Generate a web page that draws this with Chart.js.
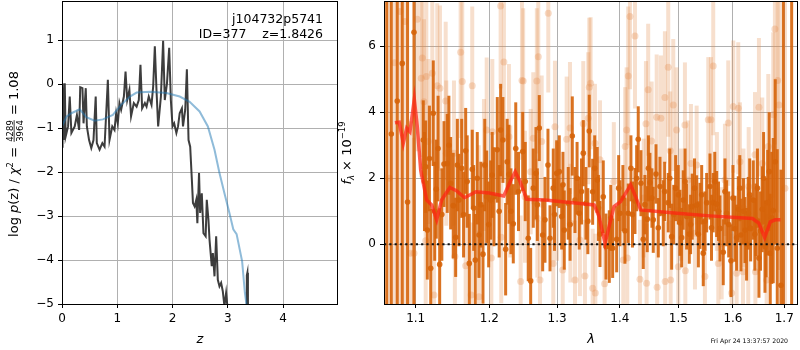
<!DOCTYPE html>
<html>
<head>
<meta charset="utf-8">
<script src="https://cdn.jsdelivr.net/npm/chart.js@4/dist/chart.umd.min.js"></script>
<style>
  html, body { margin: 0; padding: 0; background: #fff; }
  #wrap { position: relative; width: 800px; height: 350px; overflow: hidden; }
  canvas { position: absolute; top: 0; }
  #pz { left: 0; }
  #spec { left: 330px; }
</style>
</head>
<body>
<div id="wrap">
  <canvas id="pz" width="340" height="350"></canvas>
  <canvas id="spec" width="470" height="350"></canvas>
</div>
<script>
// ---- left panel: log p(z) ----
const zTicks = [0, 1, 2, 3, 4];
const logpTicks = [-5, -4, -3, -2, -1, 0, 1];

// noisy p(z) curve (dark)
const pzZ = [0, 0.01, 0.03, 0.05, 0.066, 0.11, 0.14, 0.17, 0.23, 0.27, 0.31, 0.33, 0.37, 0.39, 0.43, 0.45,
  0.49, 0.53, 0.57, 0.61, 0.63, 0.68, 0.73, 0.77, 0.83, 0.86, 0.91, 0.95, 0.98, 1.01, 1.04, 1.07,
  1.12, 1.15, 1.18, 1.22, 1.25, 1.30, 1.35, 1.39, 1.42, 1.45, 1.50, 1.53, 1.57, 1.62, 1.65, 1.68,
  1.71, 1.74, 1.79, 1.83, 1.86, 1.90, 1.94, 1.97, 2.00, 2.03, 2.07, 2.10, 2.13, 2.17, 2.19, 2.23,
  2.26, 2.29, 2.32, 2.35, 2.37, 2.40, 2.43, 2.45, 2.48, 2.50, 2.53, 2.56, 2.60, 2.62, 2.65, 2.67,
  2.71, 2.73, 2.76, 2.79, 2.82, 2.85, 2.88, 2.91, 2.94, 2.97, 3.00, 3.05, 3.15, 3.25, 3.33, 3.345,
  3.355, 3.365, 3.40];
const pzLogp = [-1.42, 0.02, -1.27, 0.02, -1.19, -0.96, -0.28, -1.11, -0.96, -0.70, -1.04, -0.07, -0.09, -0.89, -0.09, -0.96,
  -1.27, -1.45, -1.27, -0.28, -1.34, -1.49, -1.34, -1.42, 0.10, -1.27, -0.96, -1.04, -0.66, -0.89, -0.43, -0.58,
  -0.28, 0.29, -0.36, -0.13, -0.73, -0.43, -0.51, -0.36, 0.44, -0.55, -0.43, -0.51, -0.28, -0.47, -0.05, 0.86,
  -0.13, -0.96, -0.28, 0.99, -0.36, 0.02, 0.83, -0.36, -0.96, -0.89, -1.11, -0.96, -0.66, -0.55, -0.96, -0.58,
  0.34, -1.27, -1.42, -2.17, -2.70, -2.78, -2.63, -3.16, -2.02, -2.93, -2.48, -3.39, -3.46, -2.63, -3.08, -3.54,
  -4.14, -3.84, -4.37, -3.46, -4.45, -4.60, -4.52, -4.71, -5.05, -4.75, -5.13, -5.6, -5.8, -5.7, -5.3, -4.35,
  -4.29, -5.2, -6.0];

// smooth chi2 curve (blue)
const chiZ = [0, 0.08, 0.17, 0.32, 0.44, 0.59, 0.74, 0.92, 1.07, 1.23, 1.35, 1.59, 1.89, 2.13, 2.31, 2.49,
  2.64, 2.76, 2.85, 2.94, 3.03, 3.10, 3.16, 3.26, 3.31, 3.34];
const chiLogp = [-0.96, -0.74, -0.66, -0.57, -0.75, -0.83, -0.80, -0.70, -0.47, -0.28, -0.19, -0.17, -0.20, -0.28, -0.40, -0.62,
  -0.96, -1.49, -2.02, -2.48, -2.93, -3.30, -3.41, -4.03, -4.75, -5.02];

// ---- right panel: spectrum ----
const lamTicks = [1.1, 1.2, 1.3, 1.4, 1.5, 1.6, 1.7];
const fluxTicks = [0, 2, 4, 6];
const lamMin = 1.0596, lamMax = 1.7278;
const fluxMin = -1.81, fluxMax = 7.37;

// well-measured points (solid orange)
const darkLam = [1.0630, 1.0688, 1.0763, 1.0827, 1.0895, 1.0978,
  1.1099, 1.1131, 1.1152, 1.1197, 1.1231, 1.1271, 1.1316, 1.1374, 1.1418, 1.1464, 1.1499, 1.1532, 1.1577,
  1.1614, 1.1669, 1.1719, 1.1760, 1.1802, 1.1854, 1.1910, 1.1962, 1.2019, 1.2066, 1.2113, 1.2161, 1.2194,
  1.2233, 1.2281, 1.2344, 1.2482, 1.2564, 1.2600, 1.2639, 1.2679, 1.2729, 1.2780, 1.2815, 1.2891, 1.2941,
  1.2993, 1.3033, 1.3070, 1.3110, 1.3172, 1.3235, 1.3277, 1.3344, 1.3408, 1.3450, 1.3503, 1.3557, 1.3631,
  1.3675, 1.3728, 1.3772, 1.3826, 1.3881, 1.3947, 1.4001, 1.4084, 1.4139, 1.4184, 1.4252, 1.4307, 1.4353,
  1.4392, 1.4460, 1.4506, 1.4563, 1.4610, 1.4679, 1.4736, 1.4823, 1.4883, 1.4953, 1.5030, 1.5088, 1.5149,
  1.5196, 1.5249, 1.5329, 1.5389, 1.5449, 1.5511, 1.5572, 1.5632, 1.5695, 1.5757, 1.5818, 1.5882, 1.5963,
  1.6038, 1.6101, 1.6152, 1.6229, 1.6292, 1.6338, 1.6389, 1.6441, 1.6499, 1.6564, 1.6617, 1.6670, 1.6721,
  1.6780, 1.6860, 1.6934, 1.6980, 1.7149,
  1.1115, 1.1180, 1.1250, 1.1295, 1.1345, 1.1440, 1.1555, 1.1640, 1.1690, 1.1780, 1.1830, 1.1880, 1.1935,
  1.1990, 1.2040, 1.2140, 1.2255, 1.2310, 1.2380, 1.2420, 1.2520, 1.2700, 1.2860, 1.2960, 1.3090, 1.3200,
  1.3310, 1.3380, 1.3480, 1.3590, 1.3650, 1.3850, 1.3980, 1.4050, 1.4210, 1.4280, 1.4420, 1.4480, 1.4540,
  1.4650, 1.4760, 1.4850, 1.4920, 1.5000, 1.5060, 1.5120, 1.5220, 1.5290, 1.5360, 1.5420, 1.5480, 1.5600,
  1.5660, 1.5730, 1.5850, 1.5920, 1.6000, 1.6070, 1.6130, 1.6200, 1.6260, 1.6320, 1.6420, 1.6470, 1.6530,
  1.6590, 1.6640, 1.6700, 1.6750, 1.6820];
const darkFlux = [9.0, 3.34, 4.34, 5.48, 1.28, 6.42,
  3.16, 2.35, 0.43, -0.73, 3.97, 1.67, -0.61, 2.43, 2.45, 1.85, 1.17, 0.21, 1.34,
  2.30, 2.83, -0.58, 2.27, -0.48, 0.28, -0.30, 1.44, 1.34, 1.44, 2.86, 3.46, 3.16,
  -0.15, 2.12, 0.62, 2.81, 0.18, -1.11, 1.70, 2.15, 3.52, 0.28, 0.74, 0.18, 1.70,
  2.15, 2.20, 0.84, 0.43, 1.24, 3.28, 1.34, 0.94, 2.76, 1.24, 3.43, 1.59, 1.95,
  0.31, 1.44, -0.07, -0.07, -0.12, 0.15, 0.94, 0.41, 0.94, 2.30, 1.31, 3.18, 1.85,
  0.15, 0.76, 1.87, 0.74, 2.13, 1.75, 0.94, 1.26, 0.23, 1.70, 0.65, 1.34, 0.84,
  0.31, 1.14, 1.19, 0.86, -0.27, 1.26, 1.75, 1.26, 1.22, 0.48, -0.24, 0.94, -0.50,
  0.47, 1.06, 0.28, 0.43, 0.94, 0.48, 1.34, 0.74, -0.42, 1.06, -0.07, 1.26, -0.27,
  1.02, -0.12, -1.24, 9.0, -3.0,
  1.9, 2.6, 1.0, 2.9, 0.9, 3.0, 2.4, 0.9, 1.9, 1.1, 2.0, 1.2, 2.4,
  0.6, 2.1, 1.0, 2.5, 1.0, 2.9, 1.6, 1.9, 1.2, 2.4, 0.9, 1.8, 0.6,
  2.0, 1.6, 0.7, 2.3, 1.1, 0.8, 1.7, 1.4, 0.9, 2.0, 1.2, 2.3, 1.4,
  0.5, 1.6, 2.0, 0.9, 1.5, 0.2, 1.9, 0.6, 1.7, 0.3, 1.5, 0.7, 0.5,
  1.9, 1.0, 1.6, 0.6, 1.4, 0.2, 1.7, 1.0, 0.0, 1.5, 0.3, 1.7, 0.4,
  2.0, 0.5, 2.2, 0.8, 2.5];
const darkErr = [20, 20, 20, 20, 20, 20,
  1.2, 1.4, 1.5, 1.8, 1.6, 1.5, 1.7, 1.3, 1.5, 1.4, 1.6, 1.2, 1.4,
  1.5, 1.3, 1.5, 1.2, 1.4, 1.3, 1.5, 1.4, 1.2, 1.5, 1.6, 1.4, 1.3,
  1.4, 1.5, 1.2, 1.2, 1.3, 1.0, 1.2, 1.4, 1.0, 1.1, 1.3, 1.0, 1.2,
  1.0, 1.1, 1.0, 1.2, 1.1, 1.2, 1.0, 1.1, 1.0, 1.1, 1.1, 1.0, 1.0,
  1.0, 1.1, 1.0, 1.1, 0.9, 1.0, 1.0, 1.0, 0.9, 1.0, 1.0, 1.0, 1.0,
  0.9, 1.0, 0.9, 1.0, 0.9, 0.9, 1.0, 0.9, 1.0, 1.0, 1.0, 0.9, 1.0,
  0.9, 1.0, 0.9, 1.0, 1.0, 0.9, 1.0, 0.9, 1.0, 1.0, 1.0, 1.0, 1.1,
  1.0, 1.0, 1.1, 1.0, 1.1, 1.0, 1.2, 1.1, 1.2, 1.3, 1.4, 1.6, 1.8,
  2.2, 3.0, 3.5, 20, 20,
  1.5, 1.6, 1.5, 1.6, 1.4, 1.5, 1.4, 1.3, 1.4, 1.3, 1.4, 1.3, 1.4,
  1.3, 1.3, 1.4, 1.3, 1.3, 1.4, 1.2, 1.2, 1.1, 1.1, 1.1, 1.0, 1.1,
  1.1, 1.0, 1.0, 1.0, 1.0, 1.0, 1.0, 1.0, 1.0, 1.0, 0.9, 1.0, 0.9,
  0.9, 0.9, 0.9, 0.9, 0.9, 0.9, 1.0, 0.9, 0.9, 1.0, 0.9, 0.9, 1.0,
  0.9, 0.9, 1.0, 1.0, 1.0, 1.0, 1.0, 1.0, 1.1, 1.1, 1.1, 1.2, 1.2,
  1.4, 1.5, 1.8, 2.0, 2.5];

// noisy points (faint orange)
const lightLam = [1.0662, 1.0731, 1.0798, 1.0860, 1.0935, 1.0978, 1.1021, 1.1073, 1.1086, 1.1108, 1.1131,
  1.1139, 1.1165, 1.1218, 1.1240, 1.1284, 1.1320, 1.1397, 1.1405, 1.1509, 1.1521, 1.1600, 1.1622, 1.1669,
  1.1745, 1.1760, 1.1850, 1.1854, 1.1924, 1.1962, 1.2028, 1.2042, 1.2161, 1.2170, 1.2208, 1.2281, 1.2300,
  1.2452, 1.2471, 1.2489, 1.2515, 1.2600, 1.2639, 1.2692, 1.2700, 1.2714, 1.2740, 1.2765, 1.2865, 1.2941,
  1.2967, 1.3000, 1.3086, 1.3147, 1.3199, 1.3205, 1.3277, 1.3355, 1.3408, 1.3434, 1.3487, 1.3503, 1.3525,
  1.3557, 1.3594, 1.3600, 1.3675, 1.3750, 1.3900, 1.4056, 1.4088, 1.4112, 1.4123, 1.4139, 1.4168, 1.4252,
  1.4336, 1.4400, 1.4438, 1.4449, 1.4476, 1.4535, 1.4622, 1.4630, 1.4696, 1.4765, 1.4770, 1.4823, 1.4858,
  1.4865, 1.4911, 1.4971, 1.5000, 1.5050, 1.5118, 1.5125, 1.5172, 1.5226, 1.5298, 1.5329, 1.5480, 1.5541,
  1.5590, 1.5632, 1.5700, 1.5726, 1.5788, 1.5850, 1.5912, 1.5976, 1.6006, 1.6070, 1.6101, 1.6133, 1.6191,
  1.6200, 1.6292, 1.6300, 1.6422, 1.6430, 1.6499, 1.6564, 1.6650, 1.6682, 1.6780, 1.6813, 1.6868, 1.6894,
  1.7014];
const lightFlux = [2.0, 5.5, 7.05, 6.75, -0.27, -0.27, 6.82, 5.03, 5.64, 4.32, 0.11,
  5.08, 3.11, 5.18, -1.54, 4.80, 4.73, 4.34, 2.76, 2.76, -0.37, 5.82, 4.93, -0.65,
  -1.54, 4.80, 1.0, -1.59, 2.40, 3.46, -0.42, 3.41, 7.22, 0.21, 5.52, 3.26, 1.6,
  -1.13, 4.96, 4.95, 1.44, 2.2, 3.21, 4.95, 0.79, 5.68, -1.08, 3.11, 7.00, -0.58,
  3.56, 1.3, -0.78, 3.18, 3.52, 0.64, -1.08, 0.13, 3.65, -0.96, 3.82, 4.76, 4.88,
  -1.33, 3.06, -1.48, 2.56, -1.20, 1.9, -0.48, 2.96, 3.46, -0.42, 5.10, 6.90, 6.31,
  -1.06, 1.4, 3.65, -1.18, 4.68, 3.13, 3.85, -1.30, 3.82, 4.45, -1.13, 5.36, 2.83,
  -1.08, 4.22, 3.46, -0.68, 1.2, 3.61, -0.80, 1.95, 2.45, 0.33, 2.40, -0.98, 3.77,
  3.77, 5.40, 1.6, -0.58, 0.03, 1.95, 3.67, -1.48, 4.17, -0.88, 4.12, 2.50, -0.83,
  1.1, -0.07, 1.75, 2.71, -0.83, 4.15, 2.45, -1.08, 2.96, 3.92, 6.52, 4.96, 4.22,
  1.70];
const lightErr = [20, 20, 20, 20, 4, 3.5, 4, 3, 3, 2.5, 2.5,
  3, 2.5, 2.8, 2.5, 2.5, 2.5, 2.4, 2.2, 2.2, 2.0, 2.6, 2.5, 2.0,
  2.2, 2.4, 2.0, 2.0, 2.0, 2.2, 2.0, 2.2, 2.5, 2.0, 2.4, 2.2, 2.0,
  2.0, 2.4, 2.2, 2.0, 1.9, 2.0, 2.2, 1.8, 2.3, 1.8, 2.0, 2.4, 1.8,
  2.0, 1.8, 1.8, 1.9, 2.0, 1.8, 1.8, 1.7, 1.9, 1.7, 2.0, 2.1, 2.0,
  1.8, 1.8, 1.8, 1.8, 1.8, 1.8, 1.8, 1.8, 1.9, 1.8, 2.1, 2.2, 2.2,
  1.8, 1.8, 1.9, 1.8, 2.0, 1.8, 1.9, 1.8, 1.9, 2.0, 1.8, 2.1, 1.8,
  1.8, 2.0, 1.9, 1.8, 1.7, 1.9, 1.8, 1.8, 1.8, 1.7, 1.8, 1.7, 1.9,
  1.9, 2.1, 1.8, 1.7, 1.7, 1.7, 1.9, 1.8, 2.0, 1.8, 2.0, 1.8, 1.8,
  1.8, 1.8, 1.8, 1.9, 1.8, 2.1, 2.0, 2.0, 2.2, 2.5, 3.5, 4, 5,
  6];

// best-fit model (red)
const modelLam = [1.0734, 1.0788, 1.0840, 1.0884, 1.0926, 1.0982, 1.1021, 1.1065, 1.1144, 1.1210, 1.1276,
  1.1342, 1.1453, 1.1542, 1.1654, 1.1812, 1.1996, 1.2206, 1.2300, 1.2372, 1.2443, 1.2540, 1.2811, 1.3320,
  1.3582, 1.3660, 1.3757, 1.3822, 1.3903, 1.4012, 1.4179, 1.4262, 1.4347, 1.4981, 1.5571, 1.6372, 1.6496,
  1.6611, 1.6722, 1.6821, 1.6923];
const modelFlux = [3.68, 3.70, 3.06, 3.52, 3.41, 4.39, 3.56, 2.25, 1.34, 1.19, 0.74,
  1.34, 1.72, 1.62, 1.41, 1.59, 1.55, 1.46, 1.90, 2.20, 1.90, 1.36, 1.34, 1.24,
  1.19, 0.84, 0.03, 0.53, 1.14, 1.29, 1.80, 1.44, 1.04, 0.94, 0.86, 0.78, 0.64,
  0.21, 0.68, 0.74, 0.74];

const zeroLam = [lamMin, lamMax];
const zeroFlux = [0, 0];

Chart.defaults.font.family = "'DejaVu Sans', sans-serif";
Chart.defaults.font.size = 12;
Chart.defaults.color = "#000";

const minus = (v) => (v < 0 ? "\u2212" + Math.abs(v) : String(v));

const axisGrid = {
  color: "#b0b0b0",
  lineWidth: 1,
  tickColor: "#000",
  tickLength: 4,
};

// pin the axis box sizes so the plot area lands where matplotlib put it
const fixSize = (w, h) => (s) => {
  if (w) s.width = w;
  if (h) s.height = h;
  s.paddingTop = s.paddingBottom = s.paddingLeft = s.paddingRight = 0;
};

// black box around the plot area, like matplotlib spines
const frame = {
  id: "frame",
  afterDraw(chart) {
    const { ctx, chartArea: a } = chart;
    ctx.save();
    ctx.strokeStyle = "#000";
    ctx.lineWidth = 1;
    ctx.strokeRect(Math.round(a.left) + 0.5, Math.round(a.top) + 0.5,
      Math.round(a.right - a.left) - 1, Math.round(a.bottom - a.top));
    ctx.restore();
  },
};

// draw a run of text pieces, each with its own font and vertical shift
function drawPieces(ctx, pieces, x0) {
  let x = x0;
  pieces.forEach((p) => {
    ctx.font = p.font;
    ctx.fillText(p.t, x, p.dy || 0);
    x += ctx.measureText(p.t).width;
  });
}
function piecesWidth(ctx, pieces) {
  let w = 0;
  pieces.forEach((p) => {
    ctx.font = p.font;
    w += ctx.measureText(p.t).width;
  });
  return w;
}

const F = "'DejaVu Sans'";
const pzLabels = {
  id: "pzLabels",
  afterDraw(chart) {
    const ctx = chart.ctx;
    ctx.save();
    ctx.fillStyle = "#000";

    // object name / id in the corner
    ctx.font = "12.5px " + F;
    ctx.textAlign = "right";
    ctx.textBaseline = "middle";
    ctx.fillText("j104732p5741", 323, 20);
    ctx.fillText("ID=377    z=1.8426", 323, 35);

    // x label
    ctx.textAlign = "center";
    ctx.font = "italic 13px " + F;
    ctx.fillText("z", 200, 340);

    // y label with the stacked fraction
    ctx.textAlign = "left";
    ctx.textBaseline = "alphabetic";
    ctx.translate(18, 154);
    ctx.rotate(-Math.PI / 2);
    const n = "13px " + F, it = "italic 13px " + F, sm = "8.5px " + F;
    const head = [
      { t: "log ", font: n }, { t: "p", font: it }, { t: "(z) / ", font: n },
      { t: "\u03c7", font: it }, { t: "2", font: sm, dy: -5.5 }, { t: " = ", font: n },
    ];
    const tail = [{ t: " = 1.08", font: n }];
    ctx.font = sm;
    const fw = Math.max(ctx.measureText("4289").width, ctx.measureText("3964").width) + 2;
    const hw = piecesWidth(ctx, head), tw = piecesWidth(ctx, tail);
    const x0 = -(hw + fw + tw) / 2;
    drawPieces(ctx, head, x0);
    const fx = x0 + hw;
    ctx.font = sm;
    ctx.textAlign = "center";
    ctx.fillText("4289", fx + fw / 2, -5.5);
    ctx.fillText("3964", fx + fw / 2, 4.5);
    ctx.fillRect(fx + 1, -4.3, fw - 2, 0.8);
    ctx.textAlign = "left";
    drawPieces(ctx, tail, fx + fw);
    ctx.restore();
  },
};

const specLabels = {
  id: "specLabels",
  afterDraw(chart) {
    const ctx = chart.ctx;
    ctx.save();
    ctx.fillStyle = "#000";
    ctx.textAlign = "center";
    ctx.textBaseline = "middle";
    ctx.font = "italic 13px " + F;
    ctx.fillText("\u03bb", 261, 340);

    ctx.font = "6.2px " + F;
    ctx.textAlign = "right";
    ctx.fillText("Fri Apr 24 13:37:57 2020", 458, 341);

    // y label  f_lambda x 10^-19
    ctx.textAlign = "left";
    ctx.textBaseline = "alphabetic";
    ctx.translate(21, 153);
    ctx.rotate(-Math.PI / 2);
    const pieces = [
      { t: "f", font: "italic 13px " + F }, { t: "\u03bb", font: "italic 8.5px " + F, dy: 3 },
      { t: " \u00d7 10", font: "13px " + F }, { t: "\u221219", font: "8.5px " + F, dy: -6 },
    ];
    drawPieces(ctx, pieces, -piecesWidth(ctx, pieces) / 2);
    ctx.restore();
  },
};

// vertical error bars, drawn just before their own marker dataset
function strokeErrors(chart, lam, flux, err, color, width) {
  const { ctx, chartArea: a, scales } = chart;
  ctx.save();
  ctx.beginPath();
  ctx.rect(a.left, a.top, a.right - a.left, a.bottom - a.top);
  ctx.clip();
  ctx.strokeStyle = color;
  ctx.lineWidth = width;
  for (let i = 0; i < lam.length; i++) {
    const px = scales.x.getPixelForValue(lam[i]);
    ctx.beginPath();
    ctx.moveTo(px, scales.y.getPixelForValue(flux[i] - err[i]));
    ctx.lineTo(px, scales.y.getPixelForValue(flux[i] + err[i]));
    ctx.stroke();
  }
  ctx.restore();
}
const errorBars = {
  id: "errorBars",
  beforeDatasetDraw(chart, args) {
    if (args.index === 0) {
      strokeErrors(chart, lightLam, lightFlux, lightErr, "rgba(228,140,75,0.28)", 4);
    } else if (args.index === 1) {
      strokeErrors(chart, darkLam, darkFlux, darkErr, "rgba(214,100,10,0.9)", 3);
    }
  },
};

const pts = (xs, ys) => xs.map((x, i) => ({ x: x, y: ys[i] }));

new Chart(document.getElementById("pz"), {
  type: "line",
  data: {
    datasets: [
      {
        data: pts(pzZ, pzLogp),
        borderColor: "rgba(45,45,45,0.92)",
        borderWidth: 2,
        pointRadius: 0,
        order: 1,
      },
      {
        data: pts(chiZ, chiLogp),
        borderColor: "rgba(31,119,180,0.5)",
        borderWidth: 2,
        pointRadius: 0,
        order: 0,
      },
    ],
  },
  options: {
    responsive: false,
    animation: false,
    events: [],
    layout: { autoPadding: false, padding: { top: 1, right: 2, bottom: 0, left: 0 } },
    plugins: { legend: { display: false }, tooltip: { enabled: false } },
    scales: {
      x: {
        type: "linear",
        min: 0,
        max: 4.995,
        afterBuildTicks: (s) => { s.ticks = zTicks.map((v) => ({ value: v })); },
        afterFit: fixSize(0, 46),
        grid: axisGrid,
        border: { display: false },
        ticks: { padding: 4, maxRotation: 0, callback: (v) => minus(v) },
      },
      y: {
        type: "linear",
        min: -5,
        max: 1.893,
        afterBuildTicks: (s) => { s.ticks = logpTicks.map((v) => ({ value: v })); },
        afterFit: fixSize(62, 0),
        grid: axisGrid,
        border: { display: false },
        ticks: { padding: 4, callback: (v) => minus(v) },
      },
    },
  },
  plugins: [frame, pzLabels],
});

new Chart(document.getElementById("spec"), {
  type: "scatter",
  data: {
    datasets: [
      {
        data: pts(lightLam, lightFlux),
        backgroundColor: "rgba(228,140,75,0.3)",
        borderWidth: 0,
        pointRadius: 3.5,
        order: 3,
      },
      {
        data: pts(darkLam, darkFlux),
        backgroundColor: "rgba(214,100,10,0.9)",
        borderWidth: 0,
        pointRadius: 2.8,
        order: 2,
      },
      {
        type: "line",
        data: pts(zeroLam, zeroFlux),
        borderColor: "#111",
        borderWidth: 2,
        borderDash: [2.2, 3.1],
        pointRadius: 0,
        order: 1,
      },
      {
        type: "line",
        data: pts(modelLam, modelFlux),
        borderColor: "rgba(255,35,20,0.72)",
        borderWidth: 3.5,
        pointRadius: 0,
        order: 0,
      },
    ],
  },
  options: {
    responsive: false,
    animation: false,
    events: [],
    layout: { autoPadding: false, padding: { top: 1, right: 2, bottom: 0, left: 0 } },
    plugins: { legend: { display: false }, tooltip: { enabled: false } },
    scales: {
      x: {
        type: "logarithmic",
        min: lamMin,
        max: lamMax,
        afterBuildTicks: (s) => { s.ticks = lamTicks.map((v) => ({ value: v })); },
        afterFit: fixSize(0, 46),
        grid: axisGrid,
        border: { display: false },
        ticks: { padding: 4, maxRotation: 0, callback: (v) => Number(v).toFixed(1) },
      },
      y: {
        type: "linear",
        min: fluxMin,
        max: fluxMax,
        afterBuildTicks: (s) => { s.ticks = fluxTicks.map((v) => ({ value: v })); },
        afterFit: fixSize(54, 0),
        grid: axisGrid,
        border: { display: false },
        ticks: { padding: 4, callback: (v) => minus(v) },
      },
    },
  },
  plugins: [frame, errorBars, specLabels],
});
</script>
</body>
</html>
